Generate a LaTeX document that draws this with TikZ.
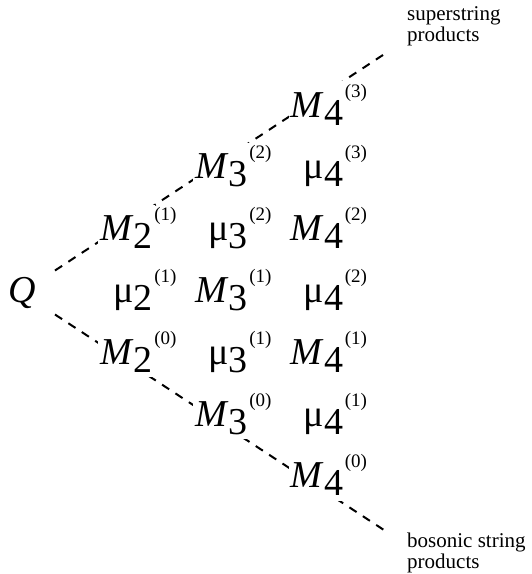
\documentclass[tikz,border=0pt]{standalone}
\usepackage{fontspec}
\usepackage{graphicx}
\setmainfont{Liberation Serif}
\usetikzlibrary{backgrounds}
\newcommand\halff{\fontsize{19}{21}\selectfont}
\newcommand\bigf{\fontsize{38}{42}\selectfont}
\newcommand\supf{\fontsize{19}{21}\selectfont}
\newcommand\lblf{\fontsize{21}{21}\selectfont}
\newcommand\ment[3]{\rule[-13pt]{0pt}{49pt}\scalebox{2}{\halff #1\lower4pt\hbox{#2}}\rlap{\kern1.5pt\raise20pt\hbox{\supf(#3)}}}
\newcommand\Mi{\textit{M}}
\begin{document}
\begin{tikzpicture}[x=1pt,y=-1pt,
  entry/.style={font=\bigf, fill=white, inner xsep=2pt, inner ysep=0pt, anchor=base east},
  conn/.style={dash pattern=on 8.5pt off 7.5pt, line width=2pt},
  lbl/.style={font=\lblf, align=left, anchor=north west, inner sep=0pt}]
\useasboundingbox (0,0) rectangle (532,574);
% row 1
\node[entry] (m43) at (345.5,117) {\ment{\Mi}{4}{3}};
% row 2
\node[entry] (m32) at (250,178.8) {\ment{\Mi}{3}{2}};
\node[entry] (u43) at (345.5,178.8) {\ment{μ}{4}{3}};
% row 3
\node[entry] (m21) at (155,240.6) {\ment{\Mi}{2}{1}};
\node[entry] (u32) at (250,240.6) {\ment{μ}{3}{2}};
\node[entry] (m42) at (345.5,240.6) {\ment{\Mi}{4}{2}};
% row 4
\node[font=\bigf, anchor=base west, inner sep=0pt] (q) at (8,302.4) {\scalebox{2}{\halff\textit{Q}}};
\node[entry] (u21) at (155,302.4) {\ment{μ}{2}{1}};
\node[entry] (m31) at (250,302.4) {\ment{\Mi}{3}{1}};
\node[entry] (u42) at (345.5,302.4) {\ment{μ}{4}{2}};
% row 5
\node[entry] (m20) at (155,364.2) {\ment{\Mi}{2}{0}};
\node[entry] (u31) at (250,364.2) {\ment{μ}{3}{1}};
\node[entry] (m41) at (345.5,364.2) {\ment{\Mi}{4}{1}};
% row 6
\node[entry] (m30) at (250,426) {\ment{\Mi}{3}{0}};
\node[entry] (u41) at (345.5,426) {\ment{μ}{4}{1}};
% row 7
\node[entry] (m40) at (345.5,487.8) {\ment{\Mi}{4}{0}};
% labels
\node[lbl] (ss) at (407,6.7) {superstring\\products};
\node[lbl] (bs) at (407,532.4) {bosonic string\\products};
% connector ends
\coordinate (qup) at (55,270.5);
\coordinate (ssend) at (386,53);
\coordinate (qdn) at (55,314.5);
\coordinate (bsend) at (387,532);
\begin{pgfonlayer}{background}
\draw[conn] (qup) -- (ssend);
\draw[conn] (qdn) -- (bsend);
\end{pgfonlayer}
\end{tikzpicture}
\end{document}
